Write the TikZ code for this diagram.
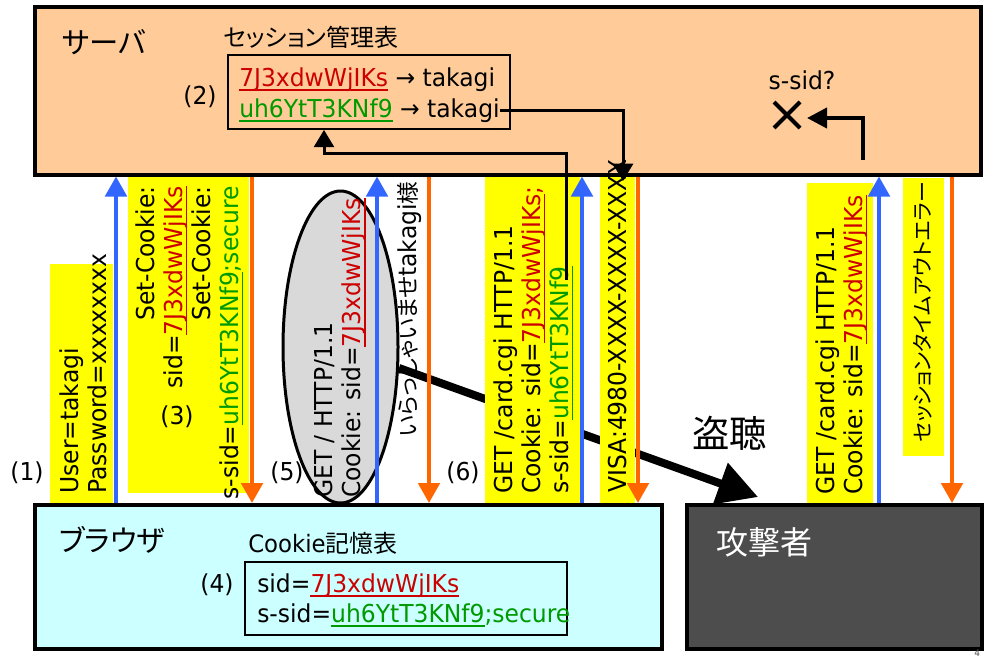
\documentclass[tikz,border=0pt]{standalone}
\usepackage{fontspec}
\setmainfont{DejaVu Sans}[FakeStretch=0.95]
\newfontfamily\jp{Noto Sans CJK JP}[RawFeature=+palt]
\usetikzlibrary{arrows.meta,shapes.geometric,fit,calc}
\definecolor{peach}{HTML}{FFCC99}
\definecolor{lcyan}{HTML}{CCFFFF}
\definecolor{dgray}{HTML}{4D4D4D}
\definecolor{idred}{HTML}{CC0000}
\definecolor{idgreen}{HTML}{009900}
\definecolor{ablue}{HTML}{3366FF}
\definecolor{aorange}{HTML}{FF6600}
\definecolor{hlyellow}{HTML}{FFFF00}
\definecolor{egray}{HTML}{D9D9D9}
\newcommand{\ulx}[1]{\leavevmode\setbox0=\hbox{#1}\rlap{\vrule width \wd0 height -0.13em depth 0.2em}\box0}
\newcommand{\rid}{\textcolor{idred}{\ulx{7J3xdwWjIKs}}}
\newcommand{\gid}{\textcolor{idgreen}{\ulx{uh6YtT3KNf9}}}
\newcommand{\msz}{\fontsize{18.5pt}{21pt}\selectfont}
\begin{document}
\begin{tikzpicture}[x=0.75pt,y=-0.75pt,
  box/.style={draw, line width=3pt, inner sep=0pt},
  hl/.style={fill=hlyellow, inner sep=0pt},
  rot/.style={rotate=90, inner sep=0pt, font=\msz, align=left},
  lbl/.style={inner sep=0pt, font=\msz},
  upar/.style={draw=ablue, line width=3pt, -{Triangle[width=16pt,length=15pt]}},
  dnar/.style={draw=aorange, line width=3pt, -{Triangle[width=16pt,length=15pt]}},
  conn/.style={draw, line width=2.25pt, -{Triangle[width=15pt,length=13pt]}},
  tab/.style={draw, line width=1.3pt, inner sep=0pt},
]
\useasboundingbox (0,0) rectangle (984,657);
\fill[white] (0,0) rectangle (984,657);

% main boxes
\node[box, fill=peach, fit={(34.5,7) (980.5,174.5)}] (server) {};
\node[box, fill=lcyan, fit={(35,505) (662,649)}] (browser) {};
\node[box, fill=dgray, fit={(687,505) (982,649)}] (attacker) {};

% ellipse and eavesdropping arrow
\node[ellipse, draw, line width=2.25pt, fill=egray, minimum width=86.25pt, minimum height=234pt, inner sep=0pt] (ell) at (340.5,347) {};
\coordinate (stealtip) at (758,497);
\draw[line width=6pt, -{Triangle[length=30pt,width=31.5pt]}] (ell) -- (stealtip);

% yellow highlight boxes
\node[hl, fit={(50,264) (113,503)}] (y1) {};
\node[hl, fit={(128,177) (249,493)}] (y2) {};
\node[hl, fit={(485,177) (580,503)}] (y3) {};
\node[hl, fit={(600,177) (635,503)}] (y4) {};
\node[hl, fit={(807,183) (873,503)}] (y5) {};
\node[hl, fit={(903,178) (944,456)}] (y6) {};

% message arrows
\foreach \x in {116,377,582} \draw[upar] (\x,0 |- browser.north) -- (\x,0 |- server.south);
\foreach \x in {252,429,638} \draw[dnar] (\x,0 |- server.south) -- (\x,0 |- browser.north);
\draw[upar] (879,0 |- attacker.north) -- (879,0 |- server.south);
\draw[dnar] (952,0 |- server.south) -- (952,0 |- attacker.north);

% rotated message texts
\node[rot, anchor=west] (t1) at (83.5,494) {User=takagi\\Password=xxxxxxxx};
\node[rot, anchor=east, align=right] (t2) at (189.5,186) {Set-Cookie:\\sid=\rid\\Set-Cookie:\\s-sid=\gid\textcolor{idgreen}{;secure}};
\node[rot, anchor=west] (t3) at (340,498) {GET / HTTP/1.1\\Cookie: sid=\rid};
\node[rot, anchor=west] (t4) at (410,437) {{\jp\fontsize{17pt}{20pt}\selectfont いらっしゃいませ}takagi{\jp\fontsize{17pt}{20pt}\selectfont 様}};
\node[rot, anchor=west] (t5) at (533.5,494) {GET /card.cgi HTTP/1.1\\Cookie: sid=\rid\textcolor{idred}{;}\\s-sid=\gid};
\node[rot, anchor=west] (t6) at (618,493) {VISA:4980-XXXX-XXXX-XXXX};
\node[rot, anchor=west] (t7) at (841.5,495) {GET /card.cgi HTTP/1.1\\Cookie: sid=\rid};
\node[rot, anchor=west, font={\jp\fontsize{15.8pt}{18pt}\selectfont}] (t8) at (923,443) {セッションタイムアウトエラー};

% step labels
\node[lbl] (n1) at (27,473) {(1)};
\node[lbl] (n2) at (200,97) {(2)};
\node[lbl] (n3) at (177,417) {(3)};
\node[lbl] (n4) at (217,585) {(4)};
\node[lbl] (n5) at (287,473) {(5)};
\node[lbl] (n6) at (463,473) {(6)};

% server contents
\node[font={\jp\fontsize{22pt}{24pt}\selectfont}, inner sep=0pt] (svlabel) at (104,42) {サーバ};
\node[font={\jp\fontsize{18pt}{20pt}\selectfont}, inner sep=0pt] (sttitle) at (311,37) {セッション管理表};
\node[tab, fit={(228,55) (510,129)}] (stab) {};
\node[lbl, anchor=base west] (r1) at (239,86) {\rid\ → takagi};
\node[lbl, anchor=base west] (r2) at (239,117) {\gid\ → takagi};
\node[lbl] (ssq) at (802,80) {s-sid?};
\node[inner sep=0pt, minimum size=1pt] (xm) at (787,115) {};
\draw[line width=3pt] ($(xm)+(-13,-13)$) -- ($(xm)+(13,13)$);
\draw[line width=3pt] ($(xm)+(-13,13)$) -- ($(xm)+(13,-13)$);
\coordinate (ssa) at (863,160);
\coordinate (ssb) at (807,118);
\draw[conn, line width=3pt, -{Triangle[width=15pt,length=15pt]}] (ssa) |- (ssb);
\coordinate (visa) at (623,181);
\draw[conn] (r2.east) -| (visa);
\coordinate (sidtap) at (566,280);
\coordinate (bend) at (324,153);
\draw[conn] (sidtap) |- (bend) -- (bend |- stab.south);

% browser contents
\node[font={\jp\fontsize{22pt}{24pt}\selectfont}, inner sep=0pt] (brlabel) at (112,540) {ブラウザ};
\node[inner sep=0pt, font=\fontsize{18pt}{20pt}\selectfont] (ctitle) at (323,543) {Cookie{\jp 記憶表}};
\node[tab, fit={(245,562) (567,635)}] (ctab) {};
\node[lbl, anchor=base west] (c1) at (257,592) {sid=\rid};
\node[lbl, anchor=base west] (c2) at (257,622) {s-sid=\gid\textcolor{idgreen}{;secure}};

% attacker
\node[font={\jp\fontsize{24pt}{26pt}\selectfont}, text=white, inner sep=0pt] (atlabel) at (764,542) {攻撃者};
\node[font={\jp\fontsize{28pt}{30pt}\selectfont}, inner sep=0pt] (tocho) at (729.5,433) {盗聴};

\node[inner sep=0pt, anchor=north west, font=\fontsize{7pt}{8pt}\selectfont, text=black!70] (pg) at (974,649.5) {4};
\end{tikzpicture}
\end{document}
